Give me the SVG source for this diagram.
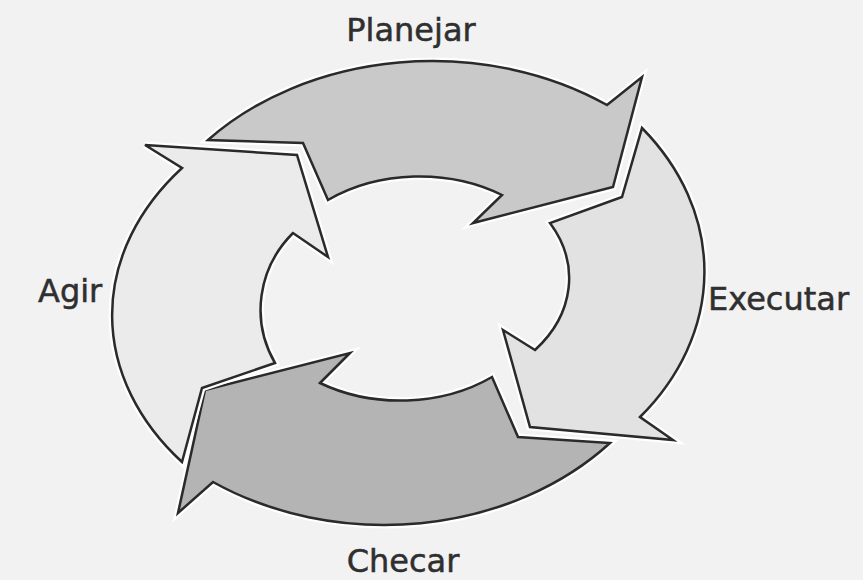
<svg xmlns="http://www.w3.org/2000/svg" width="863" height="580" viewBox="0 0 863 580">
<style>
.halo{fill:none;stroke:#ffffff;stroke-width:7;stroke-linejoin:miter}
.arrow{stroke:#2a2a2a;stroke-width:2.5;stroke-linejoin:miter}
.lbl{font-family:"DejaVu Sans","Liberation Sans",sans-serif;font-size:32px;fill:#2f2f2f;stroke:#2f2f2f;stroke-width:0.5}
</style>
<defs>
<path id="pPlan" d="M208,140 A300,235 0 0 1 607,105 L642,77 L613,187 L473,223 L502,195 A150,113 0 0 0 328,200 L303,143 Z"/>
<path id="pExec" d="M642,128 A300,235 0 0 1 640,417 L673,440 L530,427 L503,330 L535,350 A150,113 0 0 0 550,223 L622,197 Z"/>
<path id="pChec" d="M610,443 A300,240 0 0 1 213,482 L178,513 L205,390 L350,353 L320,383 A150,113 0 0 0 492,377 L518,437 Z"/>
<path id="pAgir" d="M182,462 A318,235 0 0 1 182,168 L145,145 L297,155 L328,257 L293,233 A122,113 0 0 0 275,363 L202,388 Z"/>
</defs>
<rect width="863" height="580" fill="#f2f2f2"/>
<g id="connectors"></g>
<g id="planejar">
<use href="#pPlan" class="halo"/>
<use href="#pPlan" class="arrow" fill="#c9c9c9"/>
<text class="lbl" x="411" y="41" text-anchor="middle">Planejar</text>
</g>
<g id="executar">
<use href="#pExec" class="halo"/>
<use href="#pExec" class="arrow" fill="#e2e2e2"/>
<text class="lbl" x="708" y="310">Executar</text>
</g>
<g id="checar">
<use href="#pChec" class="halo"/>
<use href="#pChec" class="arrow" fill="#b4b4b4"/>
<text class="lbl" x="403" y="572" text-anchor="middle">Checar</text>
</g>
<g id="agir">
<use href="#pAgir" class="halo"/>
<use href="#pAgir" class="arrow" fill="#ebebeb"/>
<text class="lbl" x="38" y="302">Agir</text>
</g>
</svg>
